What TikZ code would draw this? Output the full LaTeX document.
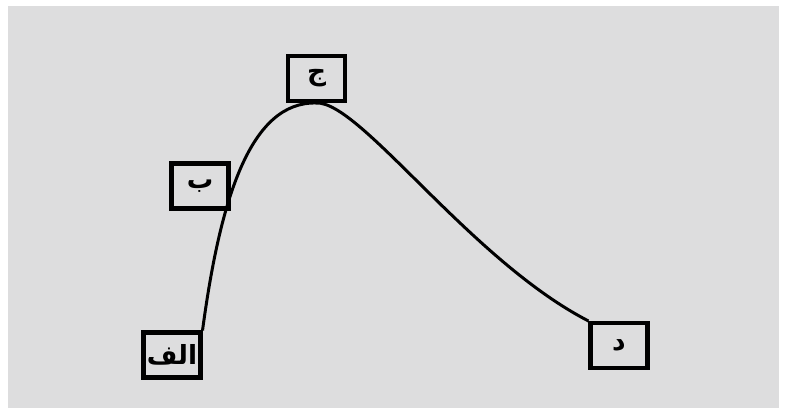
\documentclass[tikz,border=0pt]{standalone}
\usepackage{fontspec}
\usepackage{tikz}
\usetikzlibrary{positioning, calc}
\newfontfamily\arabicfont[Script=Arabic]{DejaVu Sans}
\TeXXeTstate=1
\definecolor{paneGrey}{RGB}{221,221,222}

\begin{document}
\begin{tikzpicture}[x=0.02cm, y=-0.02cm,
        letterbox/.style={draw=black, line width=2.3pt, minimum width=1.14cm, minimum height=0.9cm, inner sep=0pt, font=\arabicfont\bfseries\fontsize{15}{18}\selectfont},
        curveline/.style={line width=1.7pt, black}]
        \useasboundingbox (0, 0) rectangle (787, 408);
        
        % Background
        \fill[paneGrey] (8, 6) rectangle (779, 408);
        
        % Letter boxes
        \node[letterbox] (alef) at (172, 355) {\beginR الف\endR};
        \node[letterbox] (be) at (200, 186) {\beginR ب\endR};
        \node[letterbox] (jim) at (316.5, 78.5) {\beginR ج\endR};
        \node[letterbox] (dal) at (619, 345.5) {\beginR د\endR};
        
        % Curve
        \draw[curveline] (alef.north east) .. controls (220, 200) and (250, 101) .. (jim.south)
            .. controls (360, 101) and (470, 260) .. (dal.north west);
    \end{tikzpicture}
\end{document}
